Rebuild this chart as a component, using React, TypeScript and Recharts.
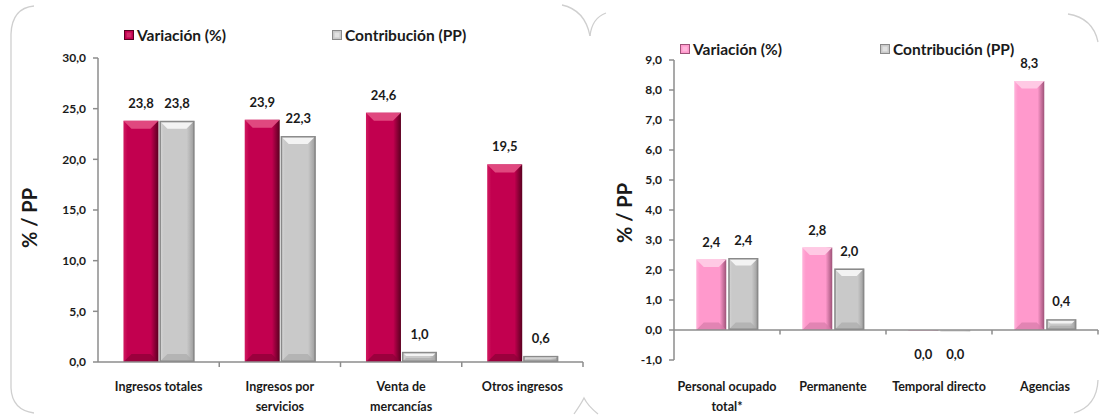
import React from 'react';
import { BarChart, Bar, XAxis, YAxis, Legend, LabelList, ReferenceLine } from 'recharts';

// ---------- data ----------
const seriesNames = ['Variación (%)', 'Contribución (PP)'];
const yAxisTitle = '% / PP';

const leftCategories = ['Ingresos totales', 'Ingresos por servicios', 'Venta de mercancías', 'Otros ingresos'];
const leftTickLabels = [['Ingresos totales'], ['Ingresos por', 'servicios'], ['Venta de', 'mercancías'], ['Otros ingresos']];
const leftVariacion = [23.8, 23.9, 24.6, 19.5];
const leftContribucion = [23.8, 22.3, 1.0, 0.6];
const leftYTicks = [0, 5, 10, 15, 20, 25, 30];

const rightCategories = ['Personal ocupado total*', 'Permanente', 'Temporal directo', 'Agencias'];
const rightTickLabels = [['Personal ocupado', 'total*'], ['Permanente'], ['Temporal directo'], ['Agencias']];
const rightVariacion = [2.35, 2.75, -0.02, 8.3];
const rightContribucion = [2.4, 2.05, -0.04, 0.36];
const rightYTicks = [-1, 0, 1, 2, 3, 4, 5, 6, 7, 8, 9];

const leftData = leftCategories.map((c, i) => ({ name: c, v: leftVariacion[i], c: leftContribucion[i] }));
const rightData = rightCategories.map((c, i) => ({ name: c, v: rightVariacion[i], c: rightContribucion[i] }));

// ---------- style ----------
const FONT = 'Lato, "Open Sans", "DejaVu Sans", sans-serif';
const AXIS = '#8c8c8c';
const TXT = '#1a1a1a';

type Pal = { body: string; light: string; dark: string; top: string; bottom: string; stroke?: string };
const RED: Pal = { body: '#C2004F', light: '#D01A60', dark: '#5A0020', top: '#E0487F', bottom: '#8A0036' };
const GRAY: Pal = { body: '#C9C9C9', light: '#DADADA', dark: '#9A9A9A', top: '#F3F3F3', bottom: '#ABABAB', stroke: '#8A8A8A' };
const PINK: Pal = { body: '#FF99CC', light: '#FFB3DA', dark: '#9E5278', top: '#FFC9E4', bottom: '#D57AA8' };

const fmt = (v: number) => (Math.abs(v) < 0.05 ? 0 : v).toFixed(1).replace('.', ',');

const makeShape = (p: Pal, id: string) => (props: any) => {
  let { x, y, width, height } = props;
  if (height < 0) { y = y + height; height = -height; }
  if (!width || !(height > 0)) return <g />;
  const b = Math.max(0, Math.min(8, height / 2.5, width / 4));
  const gid = 'grad-' + id;
  return (
    <g>
      <defs>
        <linearGradient id={gid} x1="0" y1="0" x2="1" y2="0">
          <stop offset="0" stopColor={p.light} />
          <stop offset="0.12" stopColor={p.body} />
          <stop offset="0.78" stopColor={p.body} />
          <stop offset="1" stopColor={p.dark} />
        </linearGradient>
      </defs>
      <rect x={x} y={y} width={width} height={height} fill={`url(#${gid})`} />
      <polygon points={`${x},${y} ${x + width},${y} ${x + width - b},${y + b} ${x + b},${y + b}`} fill={p.top} />
      <polygon points={`${x},${y + height} ${x + width},${y + height} ${x + width - b},${y + height - b} ${x + b},${y + height - b}`} fill={p.bottom} opacity={0.7} />
      {p.stroke ? (
        <rect x={x + 0.75} y={y + 0.75} width={Math.max(0, width - 1.5)} height={Math.max(0, height - 1.5)} fill="none" stroke={p.stroke} strokeWidth={1.5} />
      ) : null}
    </g>
  );
};

const makeValueLabel = (above: number, below: number) => (props: any) => {
  let { x, y, width, height, value } = props;
  if (value === undefined || value === null) return null;
  if (height < 0) { y = y + height; height = -height; }
  const cx = x + width / 2;
  const ty = value >= 0 ? y - above : y + height + below;
  return (
    <text x={cx} y={ty} textAnchor="middle" fontFamily={FONT} fontWeight={700} fontSize={13} fill={TXT}>
      {fmt(value)}
    </text>
  );
};

const makeXTick = (cats: string[], labels: string[][], dyFirst: number) => (props: any) => {
  const { x, y, payload } = props;
  const idx = cats.indexOf(payload.value);
  const lines = idx >= 0 ? labels[idx] : [String(payload.value)];
  return (
    <text x={x} y={y} textAnchor="middle" fontFamily={FONT} fontWeight={700} fontSize={12.5} fill={TXT}>
      {lines.map((l, i) => (
        <tspan key={i} x={x} dy={i === 0 ? dyFirst : 20}>{l}</tspan>
      ))}
    </text>
  );
};

const YTitle = (props: any) => {
  const vb = props.viewBox || { x: 0, y: 0, width: 0, height: 0 };
  const cx = vb.x + props.ox;
  const cy = vb.y + vb.height / 2 + props.oy;
  return (
    <text x={cx} y={cy} transform={`rotate(-90 ${cx} ${cy})`} textAnchor="middle" dominantBaseline="central"
      fontFamily={FONT} fontWeight={700} fontSize={20} fill={TXT} style={{ whiteSpace: 'pre' }}>
      {yAxisTitle}
    </text>
  );
};

const Swatch = ({ p }: { p: Pal }) => (
  <svg width={10} height={10} style={{ display: 'block', marginRight: 3 }}>
    <rect x={0.5} y={0.5} width={9} height={9} fill={p.body} stroke={p.stroke || p.dark} strokeWidth={1} />
    <rect x={2.5} y={2.5} width={5} height={5} fill={p.top} opacity={0.6} />
  </svg>
);

const makeLegend = (pals: Pal[], firstWidth: number) => () => (
  <div style={{ display: 'flex', alignItems: 'center', height: 20, fontFamily: FONT, fontWeight: 700, fontSize: 15.5, color: TXT, whiteSpace: 'nowrap' }}>
    {seriesNames.map((n, i) => (
      <div key={n} style={{ display: 'flex', alignItems: 'center', width: i === 0 ? firstWidth : undefined }}>
        <Swatch p={pals[i]} />
        <span>{n}</span>
      </div>
    ))}
  </div>
);

const tickStyle = { fontFamily: FONT, fontWeight: 700, fontSize: 12, fill: TXT };

function LeftChart() {
  return (
    <BarChart width={592} height={415} data={leftData} margin={{ top: 38, right: 9, bottom: 0, left: 0 }}
      barCategoryGap="21%" barGap={1}>
      <Legend verticalAlign="top" align="left" content={makeLegend([RED, GRAY], 208)}
        wrapperStyle={{ top: 25, left: 124, width: 'auto', height: 20 }} />
      <XAxis dataKey="name" height={53} axisLine={{ stroke: AXIS, strokeWidth: 1.5 }} tickLine={false} tickSize={0} tickMargin={0}
        tick={makeXTick(leftCategories, leftTickLabels, 29)} interval={0} />
      <YAxis width={98} domain={[0, 30]} ticks={leftYTicks} interval={0} tickFormatter={fmt}
        axisLine={{ stroke: AXIS, strokeWidth: 1.5 }} tickLine={{ stroke: AXIS, strokeWidth: 1.5 }} tickSize={5} tickMargin={7}
        tick={tickStyle} label={<YTitle ox={29} oy={8} />} />
      <Bar dataKey="v" name={seriesNames[0]} fill={RED.body} shape={makeShape(RED, 'lv')} isAnimationActive={false}>
        <LabelList dataKey="v" content={makeValueLabel(13, 26)} />
      </Bar>
      <Bar dataKey="c" name={seriesNames[1]} fill={GRAY.body} shape={makeShape(GRAY, 'lc')} isAnimationActive={false}>
        <LabelList dataKey="c" content={makeValueLabel(13, 26)} />
      </Bar>
      {leftCategories.map((c) => (
        <ReferenceLine key={'lt' + c} segment={[{ x: c, y: 0 }, { x: c, y: -0.5 }]} position="end"
          stroke={AXIS} strokeWidth={1.5} ifOverflow="visible" />
      ))}
    </BarChart>
  );
}

function RightChart() {
  return (
    <BarChart width={543} height={415} data={rightData} margin={{ top: 40, right: 5, bottom: 0, left: 0 }}
      barCategoryGap="21%" barGap={2}>
      <Legend verticalAlign="top" align="left" content={makeLegend([PINK, GRAY], 200)}
        wrapperStyle={{ top: 39, left: 120, width: 'auto', height: 20 }} />
      <XAxis dataKey="name" height={55} axisLine={false} tickLine={false} tickSize={0} tickMargin={0}
        tick={makeXTick(rightCategories, rightTickLabels, 31)} interval={0} />
      <YAxis width={114} domain={[-1, 9]} ticks={rightYTicks} interval={0} tickFormatter={fmt}
        axisLine={{ stroke: AXIS, strokeWidth: 1.5 }} tickLine={{ stroke: AXIS, strokeWidth: 1.5 }} tickSize={5} tickMargin={7}
        tick={tickStyle} label={<YTitle ox={64} oy={3} />} />
      <ReferenceLine y={0} stroke={AXIS} strokeWidth={1.5} />
      <Bar dataKey="v" name={seriesNames[0]} fill={PINK.body} shape={makeShape(PINK, 'rv')} isAnimationActive={false}>
        <LabelList dataKey="v" content={makeValueLabel(13, 28)} />
      </Bar>
      <Bar dataKey="c" name={seriesNames[1]} fill={GRAY.body} shape={makeShape(GRAY, 'rc')} isAnimationActive={false}>
        <LabelList dataKey="c" content={makeValueLabel(13, 28)} />
      </Bar>
      {rightCategories.map((c) => (
        <ReferenceLine key={'rt' + c} segment={[{ x: c, y: 0 }, { x: c, y: -0.15 }]} position="end"
          stroke={AXIS} strokeWidth={1.5} ifOverflow="visible" />
      ))}
    </BarChart>
  );
}

function Frames() {
  const s = { fill: 'none', stroke: '#cfcfcf', strokeWidth: 1.3 };
  return (
    <svg width={1103} height={415} style={{ position: 'absolute', left: 0, top: 0, pointerEvents: 'none' }}>
      <path d="M 34 6 Q 12 8 11 34 L 11 388 Q 12 410 34 413" {...s} />
      <path d="M 562 5 Q 585 10 590 36" {...s} />
      <path d="M 606 13 Q 592 18 590 36" {...s} />
      <path d="M 1068 14 Q 1093 18 1098 42" {...s} />
      <path d="M 1098 380 Q 1097 406 1074 413" {...s} />
      <path d="M 574 414 Q 581 404 584 398 Q 588 406 598 414" {...s} />
    </svg>
  );
}

export default function App() {
  return (
    <div style={{ position: 'absolute', left: 0, top: 0, width: 1103, height: 415, background: '#fff', overflow: 'hidden' }}>
      <div style={{ position: 'absolute', left: 0, top: 0 }}>
        <LeftChart />
      </div>
      <div style={{ position: 'absolute', left: 560, top: 0 }}>
        <RightChart />
      </div>
      <Frames />
    </div>
  );
}
